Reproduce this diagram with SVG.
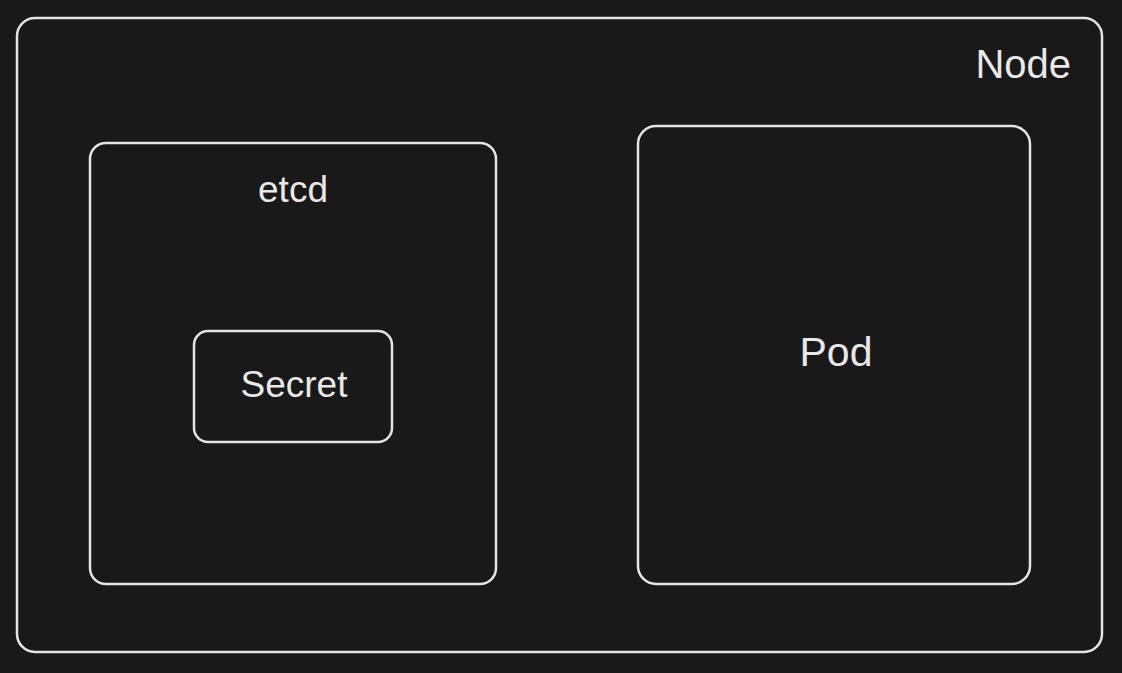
<svg xmlns="http://www.w3.org/2000/svg" width="1122" height="673" viewBox="0 0 1122 673">
<style>
.box{fill:none;stroke:#e4e4e4;stroke-width:2.5;stroke-linecap:round;stroke-linejoin:round}
.lbl{fill:#e8e8e8;font-family:"Liberation Sans",Arial,sans-serif}
</style>
<rect x="0" y="0" width="1122" height="673" fill="#191919"/>
<g id="node-Node">
<rect class="box" x="17" y="18" width="1085" height="634" rx="18"/>
<text class="lbl" x="1071" y="78" font-size="40" text-anchor="end">Node</text>
</g>
<g id="node-etcd">
<rect class="box" x="90" y="143" width="406" height="441" rx="16"/>
<text class="lbl" x="293" y="202" font-size="37" text-anchor="middle">etcd</text>
</g>
<g id="node-Secret">
<rect class="box" x="194" y="331" width="198" height="111" rx="14"/>
<text class="lbl" x="294" y="397" font-size="37" text-anchor="middle">Secret</text>
</g>
<g id="node-Pod">
<rect class="box" x="638" y="126" width="392" height="458" rx="18"/>
<text class="lbl" x="836" y="366" font-size="41" text-anchor="middle">Pod</text>
</g>
<g id="connectors"></g>
</svg>
